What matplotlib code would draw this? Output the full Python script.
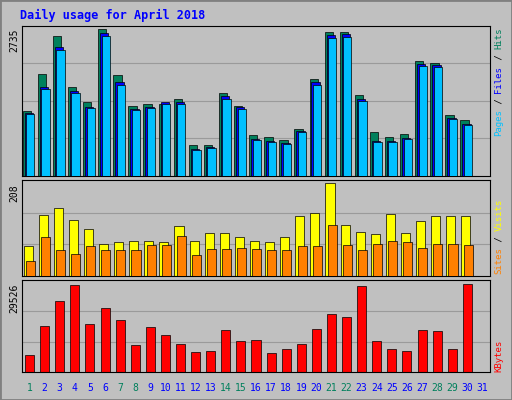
import matplotlib.pyplot as plt
import numpy as np

days = list(range(1, 32))
weekend = [1, 7, 8, 14, 15, 21, 22, 28, 29]

hits = [1218, 1892, 2604, 1648, 1367, 2735, 1873, 1311, 1330, 1330, 1424, 581, 581, 1536, 1311,
        768, 731, 674, 880, 1798, 2679, 2679, 1499, 824, 731, 787, 2136, 2098, 1143, 1049, 0]
files = [1180, 1648, 2397, 1573, 1292, 2660, 1742, 1255, 1292, 1367, 1367, 506, 543, 1480, 1274,
         693, 656, 618, 843, 1742, 2622, 2641, 1424, 656, 656, 712, 2079, 2060, 1086, 974, 0]
pages = [1150, 1610, 2350, 1540, 1260, 2610, 1700, 1220, 1260, 1330, 1330, 480, 515, 1440, 1240,
         665, 630, 590, 815, 1700, 2570, 2590, 1390, 630, 630, 685, 2040, 2020, 1055, 945, 0]
visits = [68, 136, 151, 124, 104, 72, 75, 77, 79, 75, 111, 77, 97, 97, 86,
          77, 75, 86, 133, 140, 208, 113, 99, 93, 138, 97, 122, 133, 133, 133, 0]
sites = [34, 88, 57, 50, 66, 57, 59, 57, 70, 70, 90, 47, 61, 61, 63,
         61, 59, 57, 66, 68, 113, 70, 57, 72, 79, 75, 63, 72, 72, 70, 0]
kbytes = [5770, 15273, 23758, 29190, 15952, 21382, 17310, 9164, 14934, 12218, 9503, 6788, 7127, 13915, 10182,
          10521, 6449, 7806, 9503, 14255, 19346, 18328, 28850, 10182, 7806, 7127, 13915, 13576, 7806, 29526, 0]

W, H = 512, 400
BG = "#c0c0c0"
fig = plt.figure(figsize=(W / 100, H / 100), dpi=100, facecolor=BG)
MONO = "DejaVu Sans Mono"
FS = 6.5
CH = FS * 100 / 72 * 0.602  # pixel width of one mono char

fig.add_artist(plt.Rectangle((0, 0), 1, 1, transform=fig.transFigure, fill=False, ec="#808080", lw=2))
fig.text(20 / W, 1 - 15 / H, "Daily usage for April 2018", color="#0000ff", fontsize=8.5,
         fontweight="bold", family=MONO, va="center")


def panel(top, bottom):
    ax = fig.add_axes([22 / W, 1 - bottom / H, (490 - 22) / W, (bottom - top) / H])
    ax.set_facecolor(BG)
    ax.set_xlim(0.5, 31.5)
    ax.set_xticks([])
    ax.set_yticks([])
    for s in ax.spines.values():
        s.set_color("black")
        s.set_linewidth(0.8)
    return ax


def side_label(start_y, pieces):
    # stack rotated pieces upwards from start_y (pixels from top)
    y = start_y
    for txt, col in pieces:
        fig.text(499 / W, 1 - y / H, txt, color=col, rotation=90, fontsize=FS, family=MONO,
                 va="bottom", ha="center")
        y -= len(txt) * CH


x = np.array(days)

ax1 = panel(26, 176)
ax1.set_ylim(0, 2735 * 1.02)
for f in (0.25, 0.5, 0.75):
    ax1.axhline(2735 * 1.02 * f, color="#9a9a9a", lw=0.8, zorder=0)
ax1.bar(x - 0.18, hits, width=0.55, color="#00805c", ec="black", lw=0.5, zorder=2)
ax1.bar(x - 0.05, files, width=0.55, color="#0000ff", ec="black", lw=0.5, zorder=3)
ax1.bar(x + 0.05, pages, width=0.55, color="#00c0ff", ec="black", lw=0.5, zorder=4)
fig.text(14 / W, 1 - 40 / H, "2735", rotation=90, fontsize=7, family=MONO, va="center", ha="center")
side_label(136, [("Pages", "#00c0ff"), (" / ", "#000000"), ("Files", "#0000ff"),
                 (" / ", "#000000"), ("Hits", "#00805c")])

ax2 = panel(180, 276)
ax2.set_ylim(0, 208 * 1.03)
for f in (0.33, 0.66):
    ax2.axhline(208 * 1.03 * f, color="#9a9a9a", lw=0.8, zorder=0)
ax2.bar(x - 0.1, visits, width=0.6, color="#ffff00", ec="black", lw=0.5, zorder=2)
ax2.bar(x + 0.05, sites, width=0.6, color="#ff8000", ec="black", lw=0.5, zorder=3)
fig.text(14 / W, 1 - 193 / H, "208", rotation=90, fontsize=7, family=MONO, va="center", ha="center")
side_label(274, [("Sites", "#ff8000"), (" / ", "#000000"), ("Visits", "#ffff00")])

ax3 = panel(280, 372)
ax3.set_ylim(0, 29526 * 1.04)
for f in (0.33, 0.66):
    ax3.axhline(29526 * 1.04 * f, color="#9a9a9a", lw=0.8, zorder=0)
ax3.bar(x, kbytes, width=0.6, color="#ff0000", ec="black", lw=0.5, zorder=2)
fig.text(14 / W, 1 - 298 / H, "29526", rotation=90, fontsize=7, family=MONO, va="center", ha="center")
side_label(372, [("KBytes", "#ff0000")])

for d in days:
    xp = 22 + (d - 0.5) / 31 * (490 - 22)
    fig.text(xp / W, 1 - 388 / H, str(d), color="#00805c" if d in weekend else "#0000ff",
             fontsize=7, family=MONO, ha="center", va="center")

fig.savefig("out.png", dpi=100, facecolor=BG)
